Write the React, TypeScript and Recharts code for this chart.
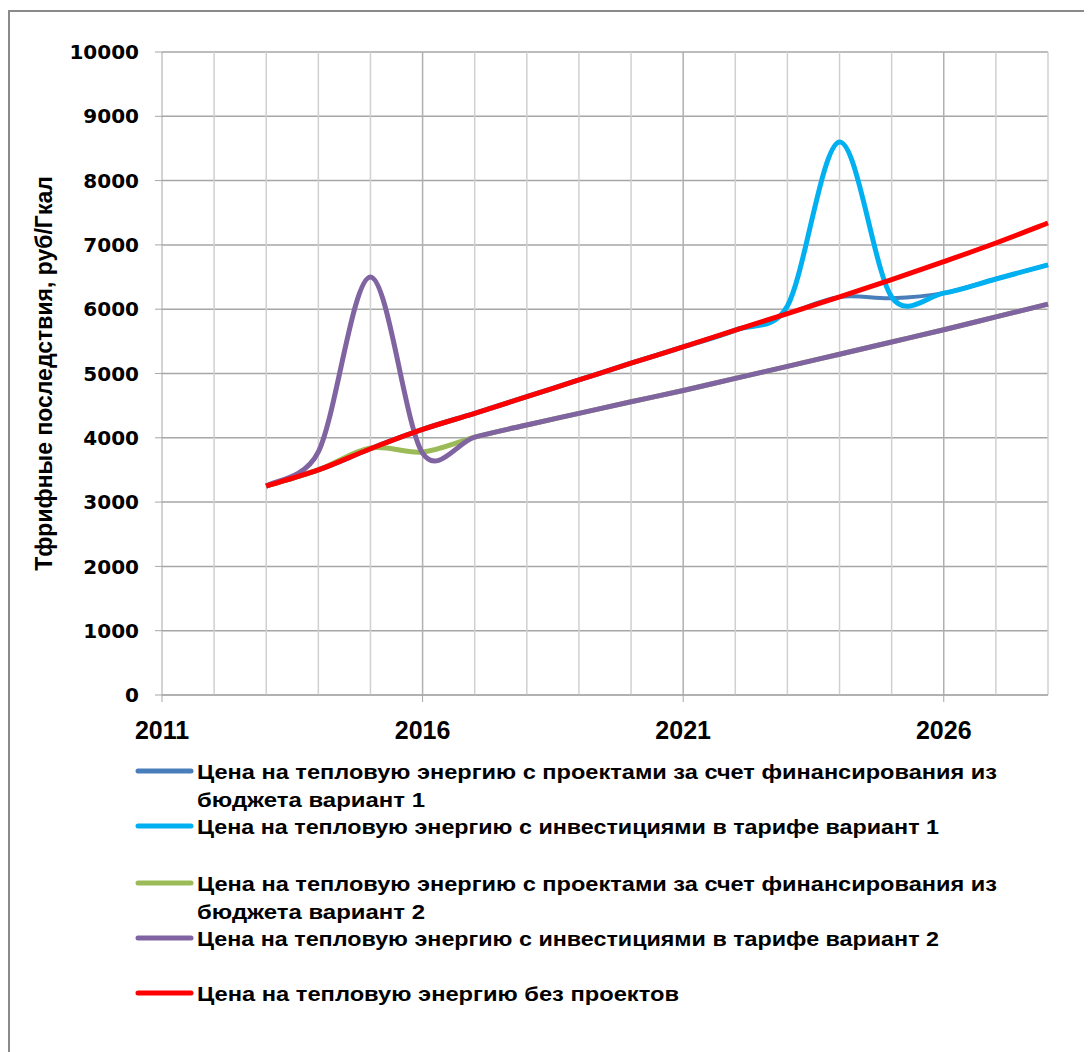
import { LineChart, Line, XAxis, YAxis, CartesianGrid, ReferenceLine } from "recharts";

const years = [2013, 2014, 2015, 2016, 2017, 2018, 2019, 2020, 2021, 2022, 2023, 2024, 2025, 2026, 2027, 2028];
const budgetV1 = [3250, 3500, 3830, 4130, 4380, 4640, 4900, 5160, 5415, 5675, 5930, 6190, 6170, 6250, 6470, 6690];
const investV1 = [3250, 3500, 3830, 4130, 4380, 4640, 4900, 5160, 5415, 5675, 6050, 8600, 6190, 6250, 6470, 6690];
const budgetV2 = [3250, 3500, 3840, 3780, 4010, 4200, 4380, 4560, 4735, 4925, 5110, 5300, 5490, 5680, 5880, 6080];
const investV2 = [3250, 3780, 6500, 3760, 4010, 4200, 4380, 4560, 4735, 4925, 5110, 5300, 5490, 5680, 5880, 6080];
const noProjects = [3250, 3500, 3830, 4130, 4380, 4640, 4900, 5160, 5415, 5675, 5930, 6190, 6460, 6740, 7030, 7340];

const xTicks = [2011, 2016, 2021, 2026];
const yTicks = [0, 1000, 2000, 3000, 4000, 5000, 6000, 7000, 8000, 9000, 10000];
const gridYears = [2012, 2013, 2014, 2015, 2016, 2017, 2018, 2019, 2020, 2021, 2022, 2023, 2024, 2025, 2026, 2027, 2028];

const series = [
  { key: "b1", color: "#4a7ebb", width: 4, lines: ["Цена на тепловую энергию  с проектами за счет финансирования из", "бюджета вариант 1"] },
  { key: "i1", color: "#00b0f0", width: 5, lines: ["Цена на тепловую энергию с инвестициями в тарифе вариант 1"] },
  { key: "b2", color: "#9bbb59", width: 5, lines: ["Цена на тепловую энергию  с проектами за счет финансирования из", "бюджета вариант 2"] },
  { key: "i2", color: "#8064a2", width: 5, lines: ["Цена на тепловую энергию с инвестициями в тарифе вариант 2"] },
  { key: "np", color: "#ff0000", width: 5, lines: ["Цена на тепловую энергию  без проектов"] },
];

const data = years.map((y, i) => ({
  year: y,
  b1: budgetV1[i],
  i1: investV1[i],
  b2: budgetV2[i],
  i2: investV2[i],
  np: noProjects[i],
}));

// Excel-style smoothing: bezier, handles (p2-p0)/6 limited to half the segment
function smoothCurve(context: any) {
  let pts: number[][] = [];
  const dist = (a: number[], b: number[]) => Math.hypot(b[0] - a[0], b[1] - a[1]);
  return {
    areaStart() {},
    areaEnd() {},
    lineStart() {
      pts = [];
    },
    point(x: number, y: number) {
      pts.push([+x, +y]);
    },
    lineEnd() {
      if (!pts.length) return;
      const n = pts.length;
      context.moveTo(pts[0][0], pts[0][1]);
      for (let i = 0; i < n - 1; i++) {
        const p0 = pts[i - 1] || pts[i];
        const p1 = pts[i];
        const p2 = pts[i + 1];
        const p3 = pts[i + 2] || p2;
        const d12 = dist(p1, p2);
        const d02 = dist(p0, p2);
        const d13 = dist(p1, p3);
        let f1 = 1 / 6;
        let f2 = 1 / 6;
        if (d02 / 6 >= d12 / 2 && d02 > 0) f1 = d12 / d02 / 2;
        if (d13 / 6 >= d12 / 2 && d13 > 0) f2 = d12 / d13 / 2;
        context.bezierCurveTo(
          p1[0] + f1 * (p2[0] - p0[0]),
          p1[1] + f1 * (p2[1] - p0[1]),
          p2[0] - f2 * (p3[0] - p1[0]),
          p2[1] - f2 * (p3[1] - p1[1]),
          p2[0],
          p2[1]
        );
      }
    },
  };
}

const XTick = (props: any) => {
  const { x, y, payload } = props;
  return (
    <text x={x} y={y + 35} textAnchor="middle" fontFamily="Liberation Sans, Arial" fontWeight="bold" fontSize={25} fill="#000">
      {payload.value}
    </text>
  );
};

const legendTop = [771, 826, 883, 938, 993];
const legendWidths = [[800, 228], [742], [800, 228], [742], [482]];

export default function App() {
  return (
    <div style={{ position: "relative", width: 1084, height: 1044, fontFamily: "Liberation Sans, Arial" }}>
      <div style={{ position: "absolute", left: 0, top: 2, width: 1084, height: 1042, borderTop: "2px solid #8a8a8a", borderLeft: "2px solid #8a8a8a", boxSizing: "border-box" }} />
      <div style={{ position: "absolute", left: 0, top: 0 }}>
        <LineChart width={1084} height={760} data={data} margin={{ top: 44, right: 44, left: 0, bottom: 40 }}>
          <CartesianGrid vertical={false} stroke="#a6a6a6" strokeWidth={1.5} />
          {gridYears.map((g) => (
            <ReferenceLine key={g} x={g} stroke={g % 5 === 1 ? "#b0b0b0" : "#d0d0d0"} strokeWidth={1.5} />
          ))}
          <XAxis
            dataKey="year"
            type="number"
            domain={[2011, 2028]}
            ticks={xTicks}
            height={33}
            stroke="#a6a6a6"
            tickSize={7}
            tick={<XTick />}
            interval={0}
          />
          <YAxis
            domain={[0, 10000]}
            ticks={yTicks}
            width={154}
            stroke="#a6a6a6"
            tickSize={7}
            tickMargin={16}
            tick={{ fill: "#000", fontFamily: "DejaVu Sans", fontWeight: "bold", fontSize: 20 }}
            interval={0}
            label={{
              value: "Тфрифные последствия, руб/Гкал",
              angle: -90,
              position: "insideLeft",
              offset: 36,
              style: { textAnchor: "middle", fontFamily: "Liberation Sans, Arial", fontWeight: "bold", fontSize: 23, fill: "#000" },
            }}
          />
          {series.map((s) => (
            <Line
              key={s.key}
              dataKey={s.key}
              type={smoothCurve as any}
              stroke={s.color}
              strokeWidth={s.width}
              dot={false}
              isAnimationActive={false}
            />
          ))}
        </LineChart>
      </div>
      <svg style={{ position: "absolute", left: 0, top: 0 }} width={1084} height={1044}>
        {series.map((s, i) => (
          <g key={s.key}>
            <line x1={130} x2={183} y1={legendTop[i] - 8} y2={legendTop[i] - 8} stroke={s.color} strokeWidth={5} strokeLinecap="round" />
            {s.lines.map((t, j) => (
              <text
                key={j}
                x={189}
                y={legendTop[i] - 8 + j * 28 + 8}
                fontFamily="Liberation Sans, Arial"
                fontWeight="bold"
                fontSize={21}
                textLength={legendWidths[i][j]}
                lengthAdjust="spacingAndGlyphs"
                fill="#000"
              >
                {t}
              </text>
            ))}
          </g>
        ))}
      </svg>
    </div>
  );
}
